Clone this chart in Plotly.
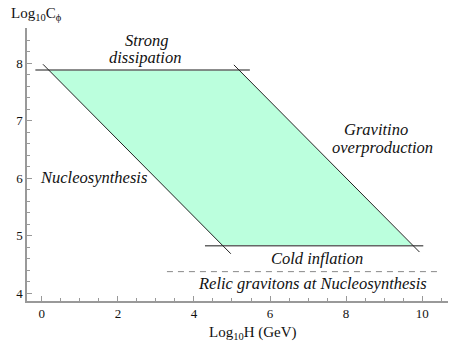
import plotly.graph_objects as go

# Region boundaries (Log10 H, Log10 C_phi)
top_line_x = [-0.17, 5.47]
top_line_y = [7.88, 7.88]
bottom_line_x = [4.29, 10.03]
bottom_line_y = [4.83, 4.83]
left_diag_x = [0.03, 4.97]
left_diag_y = [7.98, 4.69]
right_diag_x = [5.05, 9.93]
right_diag_y = [7.97, 4.72]
region_x = [0.18, 5.18, 9.755, 4.755, 0.18]
region_y = [7.88, 7.88, 4.83, 4.83, 7.88]
relic_x = [3.29, 10.42]
relic_y = [4.38, 4.38]

labels = ["Strong", "dissipation", "Gravitino", "overproduction", "Nucleosynthesis",
          "Cold inflation", "Relic gravitons at Nucleosynthesis"]
label_x = [2.74, 2.72, 8.78, 8.95, 1.36, 7.24, 7.12]
label_y = [8.40, 8.10, 6.84, 6.54, 6.02, 4.61, 4.17]

font_family = "Liberation Serif, Times New Roman, serif"

fig = go.Figure()
fig.add_trace(go.Scatter(x=region_x, y=region_y, fill="toself", fillcolor="#BBFFDD",
                         line=dict(width=0), mode="lines", hoverinfo="skip"))
fig.add_trace(go.Scatter(x=top_line_x, y=top_line_y, mode="lines",
                         line=dict(color="#666666", width=1.5)))
fig.add_trace(go.Scatter(x=bottom_line_x, y=bottom_line_y, mode="lines",
                         line=dict(color="#666666", width=1.5)))
fig.add_trace(go.Scatter(x=left_diag_x, y=left_diag_y, mode="lines",
                         line=dict(color="#222222", width=1)))
fig.add_trace(go.Scatter(x=right_diag_x, y=right_diag_y, mode="lines",
                         line=dict(color="#222222", width=1)))
fig.add_trace(go.Scatter(x=relic_x, y=relic_y, mode="lines",
                         line=dict(color="#888888", width=1, dash="6px,5px")))

for t, x, y in zip(labels, label_x, label_y):
    fig.add_annotation(x=x, y=y, text="<i>" + t + "</i>", showarrow=False,
                       font=dict(family=font_family, size=16.5, color="#111111"))

fig.add_annotation(xref="paper", yref="paper", x=-0.042, y=1.0, yshift=14,
                   xanchor="left", yanchor="middle",
                   text="Log<sub>10</sub>C<sub>ϕ</sub>", showarrow=False,
                   font=dict(family=font_family, size=15, color="#111111"))
fig.add_annotation(xref="paper", yref="paper", x=0.537, y=0, yshift=-32,
                   xanchor="center", yanchor="middle",
                   text="Log<sub>10</sub>H (GeV)", showarrow=False,
                   font=dict(family=font_family, size=15, color="#111111"))

axis_common = dict(showgrid=False, zeroline=False, showline=True, linecolor="#999999",
                   linewidth=1.5, ticks="inside", tickcolor="#999999", ticklen=5,
                   tickwidth=1, automargin=False,
                   tickfont=dict(family=font_family, size=13, color="#111111"))

fig.update_layout(
    width=463, height=348,
    margin=dict(l=27, r=15, t=28, b=47),
    plot_bgcolor="white", paper_bgcolor="white",
    showlegend=False,
    xaxis=dict(range=[-0.39, 10.68], tick0=0, dtick=2,
               minor=dict(dtick=0.5, ticks="inside", ticklen=3, tickcolor="#999999"),
               **axis_common),
    yaxis=dict(range=[3.87, 8.61], tick0=4, dtick=1,
               minor=dict(dtick=0.2, ticks="inside", ticklen=3, tickcolor="#999999"),
               **axis_common),
)

fig.write_html("out.html", config={"displayModeBar": False},
               post_script="document.body.style.margin='0';document.body.style.overflow='hidden';")
